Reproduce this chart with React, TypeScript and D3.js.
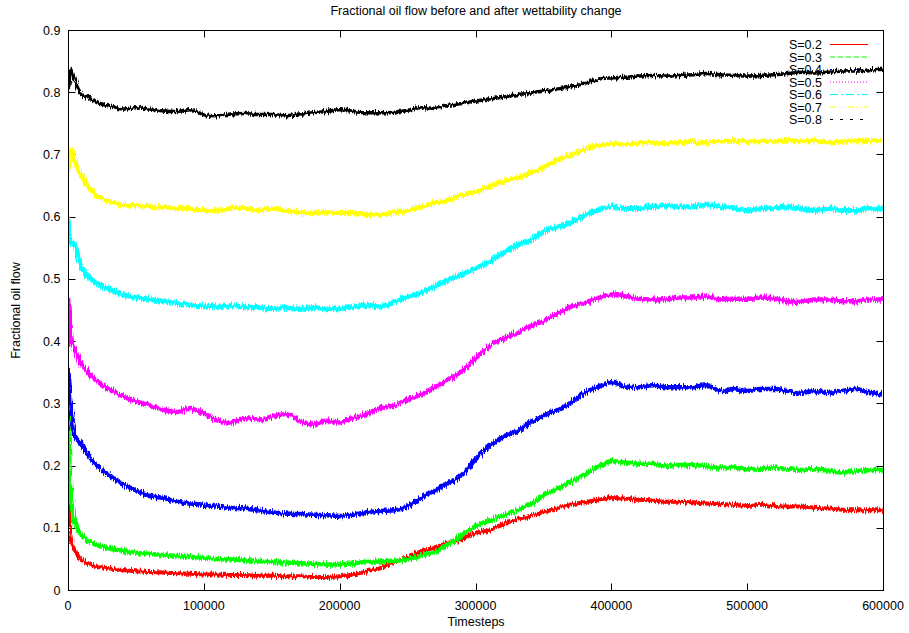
import * as d3 from "d3";
import React from "react";

const W = 909;
const H = 633;
const margin = { top: 30, right: 26, bottom: 43, left: 68 };

const timesteps = [
  0, 1000, 2000, 5000, 10000, 15000, 20000, 30000, 40000, 50000, 60000, 70000, 80000, 90000,
  100000, 110000, 120000, 130000, 140000, 150000, 160000, 170000, 180000, 190000, 200000,
  210000, 220000, 230000, 240000, 250000, 260000, 270000, 280000, 290000, 300000, 310000,
  320000, 330000, 340000, 350000, 360000, 370000, 380000, 390000, 400000, 410000, 420000,
  430000, 440000, 450000, 460000, 470000, 480000, 490000, 500000, 510000, 520000, 530000,
  540000, 550000, 560000, 570000, 580000, 590000, 600000,
];

const s02 = [
  0.2, 0.12, 0.085, 0.063, 0.048, 0.042, 0.038, 0.035, 0.032, 0.03, 0.029, 0.028, 0.027, 0.026,
  0.025, 0.025, 0.024, 0.024, 0.023, 0.023, 0.022, 0.022, 0.021, 0.021, 0.022,
  0.025, 0.03, 0.036, 0.045, 0.053, 0.062, 0.068, 0.076, 0.082, 0.091, 0.096,
  0.105, 0.113, 0.119, 0.125, 0.131, 0.137, 0.141, 0.145, 0.148, 0.147, 0.145,
  0.144, 0.142, 0.142, 0.141, 0.139, 0.138, 0.137, 0.135, 0.137, 0.135, 0.134,
  0.134, 0.132, 0.131, 0.129, 0.128, 0.128, 0.128,
];
const s03 = [
  0.29, 0.2, 0.15, 0.113, 0.088, 0.079, 0.073, 0.067, 0.063, 0.06, 0.058, 0.056, 0.055, 0.053,
  0.052, 0.05, 0.049, 0.048, 0.046, 0.045, 0.044, 0.043, 0.042, 0.041, 0.041,
  0.043, 0.045, 0.046, 0.047, 0.049, 0.055, 0.061, 0.073, 0.088, 0.102, 0.111,
  0.119, 0.128, 0.137, 0.152, 0.162, 0.174, 0.185, 0.197, 0.207, 0.205, 0.203,
  0.203, 0.2, 0.201, 0.201, 0.199, 0.197, 0.197, 0.194, 0.195, 0.197, 0.194,
  0.193, 0.194, 0.191, 0.189, 0.191, 0.193, 0.193,
];
const s04 = [
  0.36, 0.33, 0.29, 0.248, 0.234, 0.217, 0.203, 0.185, 0.171, 0.16, 0.151, 0.148, 0.142, 0.139,
  0.137, 0.134, 0.132, 0.131, 0.128, 0.125, 0.123, 0.122, 0.121, 0.12, 0.119,
  0.121, 0.125, 0.127, 0.128, 0.134, 0.148, 0.16, 0.172, 0.185, 0.21, 0.231,
  0.246, 0.254, 0.269, 0.28, 0.289, 0.3, 0.317, 0.326, 0.334, 0.327, 0.326,
  0.329, 0.326, 0.326, 0.326, 0.329, 0.32, 0.323, 0.32, 0.323, 0.323, 0.32,
  0.317, 0.32, 0.317, 0.32, 0.323, 0.317, 0.314,
];
const s05 = [
  0.47, 0.43, 0.4, 0.386, 0.363, 0.349, 0.338, 0.323, 0.312, 0.303, 0.297, 0.29, 0.286, 0.291,
  0.284, 0.273, 0.269, 0.276, 0.274, 0.278, 0.283, 0.272, 0.266, 0.272, 0.269,
  0.277, 0.283, 0.292, 0.297, 0.306, 0.315, 0.326, 0.338, 0.352, 0.372, 0.392,
  0.404, 0.412, 0.424, 0.432, 0.444, 0.455, 0.461, 0.469, 0.475, 0.472, 0.468,
  0.467, 0.467, 0.47, 0.47, 0.472, 0.467, 0.468, 0.468, 0.47, 0.468, 0.464,
  0.463, 0.467, 0.467, 0.464, 0.464, 0.467, 0.467,
];
const s06 = [
  0.6, 0.57, 0.558, 0.553, 0.518, 0.504, 0.495, 0.484, 0.475, 0.47, 0.467, 0.464, 0.461, 0.458,
  0.457, 0.455, 0.457, 0.455, 0.454, 0.452, 0.454, 0.451, 0.454, 0.452, 0.452,
  0.455, 0.458, 0.455, 0.463, 0.471, 0.478, 0.488, 0.498, 0.507, 0.517, 0.527,
  0.541, 0.553, 0.561, 0.576, 0.583, 0.59, 0.602, 0.61, 0.616, 0.613, 0.613,
  0.616, 0.618, 0.616, 0.616, 0.619, 0.616, 0.614, 0.61, 0.613, 0.614, 0.616,
  0.612, 0.61, 0.613, 0.61, 0.61, 0.613, 0.612,
];
const s07 = [
  0.675, 0.7, 0.707, 0.688, 0.665, 0.648, 0.636, 0.625, 0.619, 0.618, 0.616, 0.615, 0.613, 0.613,
  0.61, 0.61, 0.613, 0.613, 0.61, 0.613, 0.61, 0.607, 0.606, 0.607, 0.606,
  0.606, 0.604, 0.603, 0.607, 0.61, 0.616, 0.622, 0.627, 0.635, 0.64, 0.648,
  0.656, 0.662, 0.67, 0.679, 0.69, 0.699, 0.708, 0.714, 0.718, 0.716, 0.718,
  0.719, 0.718, 0.719, 0.721, 0.719, 0.721, 0.722, 0.721, 0.722, 0.721, 0.723,
  0.721, 0.722, 0.719, 0.721, 0.723, 0.722, 0.722,
];
const s08 = [
  0.795, 0.82, 0.838, 0.818, 0.797, 0.791, 0.785, 0.778, 0.773, 0.775, 0.773, 0.77, 0.769, 0.772,
  0.764, 0.762, 0.765, 0.766, 0.764, 0.764, 0.762, 0.765, 0.767, 0.769, 0.772,
  0.769, 0.767, 0.767, 0.768, 0.771, 0.775, 0.774, 0.779, 0.782, 0.786, 0.789,
  0.792, 0.796, 0.798, 0.802, 0.805, 0.809, 0.814, 0.821, 0.823, 0.824, 0.826,
  0.827, 0.826, 0.827, 0.828, 0.83, 0.828, 0.827, 0.826, 0.827, 0.828, 0.83,
  0.832, 0.831, 0.832, 0.834, 0.834, 0.836, 0.837,
];

const seriesNames = ["S=0.2", "S=0.3", "S=0.4", "S=0.5", "S=0.6", "S=0.7", "S=0.8"];
const seriesValues = [s02, s03, s04, s05, s06, s07, s08];
const seriesColors = ["#ff0000", "#00ff00", "#0000ff", "#ff00ff", "#00ffff", "#ffff00", "#000000"];
const seriesDashes = ["none", "5,3", "2,3", "1,2", "8,3,2,3", "6,3,1,3,1,3", "3,7"];
// band thickness of the noisy traces, px
const seriesWidths = [4, 4.5, 4.5, 4.5, 5, 4.5, 3.5];

const yTicks = [0, 0.1, 0.2, 0.3, 0.4, 0.5, 0.6, 0.7, 0.8, 0.9];
const xTicks = [0, 100000, 200000, 300000, 400000, 500000, 600000];

const font = "'Liberation Sans', Arial, Helvetica, sans-serif";

export default function App() {
  const innerW = W - margin.left - margin.right;
  const innerH = H - margin.top - margin.bottom;
  const x = d3.scaleLinear().domain([0, 600000]).range([margin.left, margin.left + innerW]);
  const y = d3.scaleLinear().domain([0, 0.9]).range([margin.top + innerH, margin.top]);
  const tick = 7;

  const line = d3
    .line<number>()
    .x((_, i) => x(timesteps[i]))
    .y((d) => y(d))
    .curve(d3.curveMonotoneX);

  const left = x(0) + 0.5;
  const right = x(600000) + 0.5;
  const top = y(0.9) + 0.5;
  const bottom = y(0) + 0.5;

  return (
    <svg
      width={W}
      height={H}
      style={{ position: "absolute", left: 0, top: 0, background: "#fff" }}
      fontFamily={font}
    >
      <defs>
        <filter id="jitter" filterUnits="userSpaceOnUse" x={0} y={0} width={W} height={H}>
          <feTurbulence type="fractalNoise" baseFrequency="1.1 0.08" numOctaves={2} seed={4} result="n" />
          <feDisplacementMap in="SourceGraphic" in2="n" scale={7} xChannelSelector="R" yChannelSelector="G" />
        </filter>
        <clipPath id="plot">
          <rect x={left} y={top} width={right - left} height={bottom - top} />
        </clipPath>
      </defs>

      <text x={(left + right) / 2} y={15} textAnchor="middle" fontSize={12.5}>
        Fractional oil flow before and after wettability change
      </text>

      {/* axes ticks, mirrored on all four sides */}
      <g stroke="#000" strokeWidth={1}>
        {yTicks.map((t) => (
          <g key={"y" + t}>
            <line x1={left} x2={left + tick} y1={Math.round(y(t)) + 0.5} y2={Math.round(y(t)) + 0.5} />
            <line x1={right - tick} x2={right} y1={Math.round(y(t)) + 0.5} y2={Math.round(y(t)) + 0.5} />
          </g>
        ))}
        {xTicks.map((t) => (
          <g key={"x" + t}>
            <line x1={Math.round(x(t)) + 0.5} x2={Math.round(x(t)) + 0.5} y1={bottom} y2={bottom - tick} />
            <line x1={Math.round(x(t)) + 0.5} x2={Math.round(x(t)) + 0.5} y1={top} y2={top + tick} />
          </g>
        ))}
      </g>
      <g fontSize={12.5} fill="#000">
        {yTicks.map((t) => (
          <text key={"yl" + t} x={left - 8} y={y(t) + 4.5} textAnchor="end">
            {t === 0 ? "0" : d3.format(".1f")(t)}
          </text>
        ))}
        {xTicks.map((t) => (
          <text key={"xl" + t} x={x(t)} y={bottom + 19} textAnchor="middle">
            {String(t)}
          </text>
        ))}
      </g>

      <text x={(left + right) / 2} y={626} textAnchor="middle" fontSize={12.5}>
        Timesteps
      </text>
      <text
        transform={`translate(20, ${(top + bottom) / 2}) rotate(-90)`}
        textAnchor="middle"
        fontSize={12.5}
      >
        Fractional oil flow
      </text>

      {seriesValues.map((vals, i) => {
        const ky = 44.5 + i * 12.5;
        return (
          <g key={seriesNames[i]}>
            <text x={822} y={ky + 4.5} textAnchor="end" fontSize={12.5}>
              {seriesNames[i]}
            </text>
            <line
              x1={830}
              x2={868}
              y1={ky}
              y2={ky}
              stroke={seriesColors[i]}
              strokeWidth={1}
              strokeDasharray={seriesDashes[i]}
            />
            <g clipPath="url(#plot)">
              <path
                d={line(vals) ?? ""}
                fill="none"
                stroke={seriesColors[i]}
                strokeWidth={seriesWidths[i]}
                filter="url(#jitter)"
              />
            </g>
          </g>
        );
      })}

      <rect x={left} y={top} width={right - left} height={bottom - top} fill="none" stroke="#000" strokeWidth={1} />
    </svg>
  );
}
